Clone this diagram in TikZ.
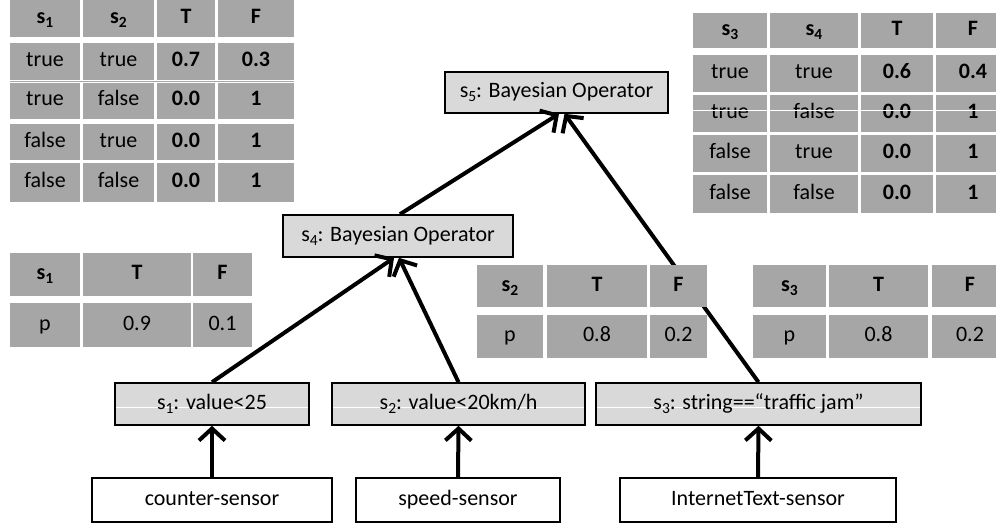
\documentclass[tikz,border=0pt]{standalone}
\usepackage{fontspec}
\setmainfont{Carlito}
\usetikzlibrary{arrows.meta}
\definecolor{cellgray}{HTML}{A6A6A6}
\definecolor{boxgray}{HTML}{D9D9D9}

% \rectnode{style}{name}{x1}{y1}{x2}{y2}{text}: node filling the given rectangle
\newcommand\rectnode[7]{%
  \pgfmathsetmacro\rnw{#5-#3}\pgfmathsetmacro\rnh{#6-#4}%
  \pgfmathsetmacro\rnx{(#3+#5)/2}\pgfmathsetmacro\rny{(#4+#6)/2}%
  \node[#1, minimum width=\rnw pt, minimum height=\rnh pt] (#2) at (\rnx,\rny) {#7};}
% lowered index as in "s_1"
\newcommand\ssub[1]{\raisebox{-4pt}{\fontsize{15.5}{15.5}\selectfont #1}}

\begin{document}
\begin{tikzpicture}[x=1pt,y=-1pt,
  font=\fontsize{22}{26}\selectfont,
  every node/.style={text height=15pt, text depth=5pt},
  cell/.style={fill=cellgray, inner sep=0pt},
  opbox/.style={draw=black, line width=1.6pt, fill=boxgray, inner sep=0pt},
  condbox/.style={opbox, path picture={\draw[white, line width=0.8pt]
      ([yshift=-3pt]path picture bounding box.west) -- ([yshift=-3pt]path picture bounding box.east);}},
  sensorbox/.style={draw=black, line width=1.6pt, fill=white, inner sep=0pt},
  link/.style={line width=4pt, -{Straight Barb[length=12pt,width=26pt]}}]

\clip (0,0) rectangle (996,527);
\useasboundingbox (0,0) rectangle (996,527);
\fill[white] (0,0) rectangle (996,527);

% operator and condition boxes
\rectnode{opbox}{s5}{445}{72}{668}{113}{s\ssub{5}: Bayesian Operator}
\rectnode{opbox}{s4}{283}{215}{513}{257}{s\ssub{4}: Bayesian Operator}
\rectnode{condbox}{s1}{115}{383}{309}{425}{s\ssub{1}: value<25}
\rectnode{condbox}{s2}{332}{383}{585}{425}{s\ssub{2}: value<20km/h}
\rectnode{condbox}{s3}{596}{383}{921}{425}{s\ssub{3}: string==“traffic jam”}

% sensors
\rectnode{sensorbox}{counter}{92}{478}{332}{522}{counter-sensor}
\rectnode{sensorbox}{speed}{356}{478}{560}{522}{speed-sensor}
\rectnode{sensorbox}{inet}{620}{478}{896}{522}{InternetText-sensor}

% connectors
\draw[link] (counter.north) -- (s1.south);
\draw[link] (speed.north) -- (s2.south);
\draw[link] (inet.north) -- (s3.south);
\draw[link] (s1.north) -- ([xshift=-4pt]s4.south);
\draw[link] (s2.north) -- ([xshift=1pt]s4.south);
\draw[link] ([xshift=2pt]s4.north) -- ([xshift=2.5pt]s5.south);
\draw[link] (s3.north) -- ([xshift=8pt]s5.south);

% CPT of s5
\rectnode{cell}{tl11}{10}{0}{80}{37}{\textbf{s\ssub{1}}}
\rectnode{cell}{tl12}{83}{0}{154}{37}{\textbf{s\ssub{2}}}
\rectnode{cell}{tl13}{157}{0}{215}{37}{\textbf{T}}
\rectnode{cell}{tl14}{218}{0}{294}{37}{\textbf{F}}
\rectnode{cell}{tl21}{10}{43}{80}{80}{true}
\rectnode{cell}{tl22}{83}{43}{154}{80}{true}
\rectnode{cell}{tl23}{157}{43}{215}{80}{\textbf{0.7}}
\rectnode{cell}{tl24}{218}{43}{294}{80}{\textbf{0.3}}
\rectnode{cell}{tl31}{10}{83}{80}{119}{true}
\rectnode{cell}{tl32}{83}{83}{154}{119}{false}
\rectnode{cell}{tl33}{157}{83}{215}{119}{\textbf{0.0}}
\rectnode{cell}{tl34}{218}{83}{294}{119}{\textbf{1}}
\rectnode{cell}{tl41}{10}{124}{80}{160}{false}
\rectnode{cell}{tl42}{83}{124}{154}{160}{true}
\rectnode{cell}{tl43}{157}{124}{215}{160}{\textbf{0.0}}
\rectnode{cell}{tl44}{218}{124}{294}{160}{\textbf{1}}
\rectnode{cell}{tl51}{10}{163}{80}{202}{false}
\rectnode{cell}{tl52}{83}{163}{154}{202}{false}
\rectnode{cell}{tl53}{157}{163}{215}{202}{\textbf{0.0}}
\rectnode{cell}{tl54}{218}{163}{294}{202}{\textbf{1}}
\draw[cellgray, line width=0.6pt] ([yshift=-1.5pt]tl21.south west) -- ([yshift=-1.5pt]tl24.south east);

% CPT of s4
\rectnode{cell}{tr11}{693}{13}{767}{48}{\textbf{s\ssub{3}}}
\rectnode{cell}{tr12}{770}{13}{858}{48}{\textbf{s\ssub{4}}}
\rectnode{cell}{tr13}{861}{13}{933}{48}{\textbf{T}}
\rectnode{cell}{tr14}{936}{13}{1010}{48}{\textbf{F}}
\rectnode{cell}{tr21}{693}{55}{767}{92}{true}
\rectnode{cell}{tr22}{770}{55}{858}{92}{true}
\rectnode{cell}{tr23}{861}{55}{933}{92}{\textbf{0.6}}
\rectnode{cell}{tr24}{936}{55}{1010}{92}{\textbf{0.4}}
\rectnode{cell}{tr31}{693}{95}{767}{132}{true}
\rectnode{cell}{tr32}{770}{95}{858}{132}{false}
\rectnode{cell}{tr33}{861}{95}{933}{132}{\textbf{0.0}}
\rectnode{cell}{tr34}{936}{95}{1010}{132}{\textbf{1}}
\rectnode{cell}{tr41}{693}{135}{767}{172}{false}
\rectnode{cell}{tr42}{770}{135}{858}{172}{true}
\rectnode{cell}{tr43}{861}{135}{933}{172}{\textbf{0.0}}
\rectnode{cell}{tr44}{936}{135}{1010}{172}{\textbf{1}}
\rectnode{cell}{tr51}{693}{175}{767}{213}{false}
\rectnode{cell}{tr52}{770}{175}{858}{213}{false}
\rectnode{cell}{tr53}{861}{175}{933}{213}{\textbf{0.0}}
\rectnode{cell}{tr54}{936}{175}{1010}{213}{\textbf{1}}
\draw[white, line width=1pt] ([yshift=3.5pt]tr31.west) -- ([yshift=3.5pt]tr34.east);

% priors of s1, s2, s3
\rectnode{cell}{pa11}{10}{253}{80}{296}{\textbf{s\ssub{1}}}
\rectnode{cell}{pa12}{83}{253}{191}{296}{\textbf{T}}
\rectnode{cell}{pa13}{193}{253}{252}{296}{\textbf{F}}
\rectnode{cell}{pa21}{10}{303}{80}{347}{p}
\rectnode{cell}{pa22}{83}{303}{191}{347}{0.9}
\rectnode{cell}{pa23}{193}{303}{252}{347}{0.1}

\rectnode{cell}{pb11}{477}{265}{543}{307}{\textbf{s\ssub{2}}}
\rectnode{cell}{pb12}{547}{265}{647}{307}{\textbf{T}}
\rectnode{cell}{pb13}{650}{265}{707}{307}{\textbf{F}}
\rectnode{cell}{pb21}{477}{315}{543}{358}{p}
\rectnode{cell}{pb22}{547}{315}{647}{358}{0.8}
\rectnode{cell}{pb23}{650}{315}{707}{358}{0.2}

\rectnode{cell}{pc11}{753}{265}{826}{307}{\textbf{s\ssub{3}}}
\rectnode{cell}{pc12}{829}{265}{928}{307}{\textbf{T}}
\rectnode{cell}{pc13}{932}{265}{1008}{307}{\textbf{F}}
\rectnode{cell}{pc21}{753}{315}{826}{358}{p}
\rectnode{cell}{pc22}{829}{315}{928}{358}{0.8}
\rectnode{cell}{pc23}{932}{315}{1008}{358}{0.2}
\end{tikzpicture}
\end{document}
